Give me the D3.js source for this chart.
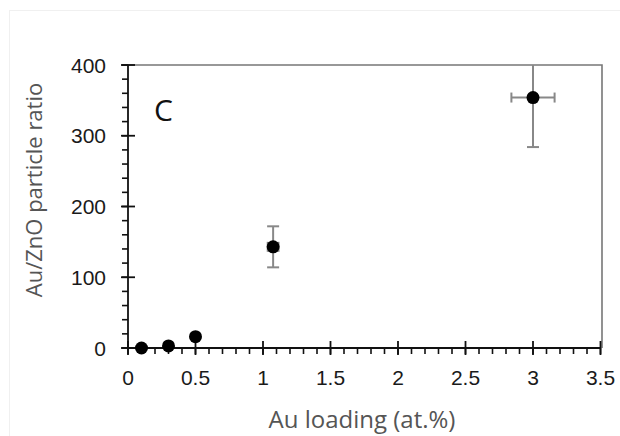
<!DOCTYPE html>
<html>
<head>
<meta charset="utf-8">
<script src="https://cdn.jsdelivr.net/npm/d3@7"></script>
<style>
body{margin:0;background:#fff;}
</style>
</head>
<body>
<svg id="svg0" width="620" height="436"></svg>
<script>
// data
var loading=[0.1,0.3,0.5,1.075,3.0];
var ratio=[0,3,16,143,354];
var ratioErr=[0,0,0,29,70];
var loadingErr=[0,0,0,0.04,0.16];
var xTicks=[0,0.5,1,1.5,2,2.5,3,3.5];
var yTicks=[0,100,200,300,400];

var svg=d3.select("#svg0");
var m={l:128,r:602,t:65,b:348};
var x=d3.scaleLinear().domain([0,3.5]).range([m.l,m.l+3.5*135]);
var y=d3.scaleLinear().domain([0,400]).range([m.b,m.t]);

// faint frame of the original picture
svg.append("rect").attr("x",9.5).attr("y",10.5).attr("width",640).attr("height",500)
  .style("fill","none").style("stroke","#f0f0f0");

svg.append("clipPath").attr("id","clip").append("rect")
  .attr("x",m.l-20).attr("y",m.t).attr("width",m.r-m.l+20).attr("height",m.b-m.t+20);

// top and right border
svg.append("path").attr("d","M"+m.l+","+m.t+"H"+m.r+"V"+m.b)
  .style("fill","none").style("stroke","#777").style("stroke-width",1.6);

// minor ticks
var yMinor=d3.range(0,401,20);
svg.selectAll(".ymin").data(yMinor).enter().append("line")
  .attr("x1",m.l-6).attr("x2",m.l).attr("y1",function(d){return y(d);}).attr("y2",function(d){return y(d);})
  .style("stroke","#111").style("stroke-width",1.6);
var xMinor=d3.range(0,36).map(function(i){return i/10;});
svg.selectAll(".xmin").data(xMinor).enter().append("line")
  .attr("x1",function(d){return x(d);}).attr("x2",function(d){return x(d);})
  .attr("y1",m.b).attr("y2",m.b+6)
  .style("stroke","#111").style("stroke-width",1.6);

// major ticks cross the axes
svg.selectAll(".ymaj").data(yTicks).enter().append("line")
  .attr("x1",m.l-7).attr("x2",m.l+7).attr("y1",function(d){return y(d);}).attr("y2",function(d){return y(d);})
  .style("stroke","#111").style("stroke-width",1.8);
svg.selectAll(".xmaj").data(xTicks).enter().append("line")
  .attr("x1",function(d){return x(d);}).attr("x2",function(d){return x(d);})
  .attr("y1",m.b-7).attr("y2",m.b+7)
  .style("stroke","#111").style("stroke-width",1.8);

// axis lines
svg.append("line").attr("x1",m.l).attr("x2",m.l).attr("y1",m.t).attr("y2",m.b)
  .style("stroke","#111").style("stroke-width",1.8);
svg.append("line").attr("x1",m.l).attr("x2",x(3.5)).attr("y1",m.b).attr("y2",m.b)
  .style("stroke","#111").style("stroke-width",1.8);

// tick labels
svg.selectAll(".ylab").data(yTicks).enter().append("text")
  .attr("x",106).attr("y",function(d){return y(d)+7.5;})
  .attr("text-anchor","end").style("font-family","Liberation Sans, Arial").style("font-size","21px")
  .style("fill","#1a1a1a").text(function(d){return d;});
svg.selectAll(".xlab").data(xTicks).enter().append("text")
  .attr("x",function(d){return x(d);}).attr("y",385)
  .attr("text-anchor","middle").style("font-family","Liberation Sans, Arial").style("font-size","21px")
  .style("fill","#1a1a1a").text(function(d){return d;});

// axis titles
svg.append("text").attr("transform","translate(42,190) rotate(-90)")
  .attr("text-anchor","middle").style("font-family","Open Sans").style("font-size","22px")
  .style("fill","#555").text("Au/ZnO particle ratio");
svg.append("text").attr("x",362).attr("y",428)
  .attr("text-anchor","middle").style("font-family","Open Sans").style("font-size","24px")
  .style("fill","#555").text("Au loading (at.%)");

// panel label
svg.append("text").attr("x",154).attr("y",121)
  .style("font-family","Open Sans").style("font-size","30px").style("fill","#111").text("C");

// error bars
var pts=loading.map(function(d,i){return {x:d,y:ratio[i],ey:ratioErr[i],ex:loadingErr[i]};});
var eb=svg.append("g").attr("clip-path","url(#clip)").style("stroke","#888").style("stroke-width",2);
pts.filter(function(d){return d.ey>0;}).forEach(function(d){
  eb.append("line").attr("x1",x(d.x)).attr("x2",x(d.x)).attr("y1",y(d.y-d.ey)).attr("y2",y(d.y+d.ey));
  eb.append("line").attr("x1",x(d.x)-6).attr("x2",x(d.x)+6).attr("y1",y(d.y-d.ey)).attr("y2",y(d.y-d.ey));
  eb.append("line").attr("x1",x(d.x)-6).attr("x2",x(d.x)+6).attr("y1",y(d.y+d.ey)).attr("y2",y(d.y+d.ey));
  eb.append("line").attr("x1",x(d.x-d.ex)).attr("x2",x(d.x+d.ex)).attr("y1",y(d.y)).attr("y2",y(d.y));
  eb.append("line").attr("x1",x(d.x-d.ex)).attr("x2",x(d.x-d.ex)).attr("y1",y(d.y)-5).attr("y2",y(d.y)+5);
  eb.append("line").attr("x1",x(d.x+d.ex)).attr("x2",x(d.x+d.ex)).attr("y1",y(d.y)-5).attr("y2",y(d.y)+5);
});

// points
svg.selectAll(".pt").data(pts).enter().append("circle")
  .attr("cx",function(d){return x(d.x);}).attr("cy",function(d){return y(d.y);})
  .attr("r",6.5).style("fill","#000");
</script>
</body>
</html>
